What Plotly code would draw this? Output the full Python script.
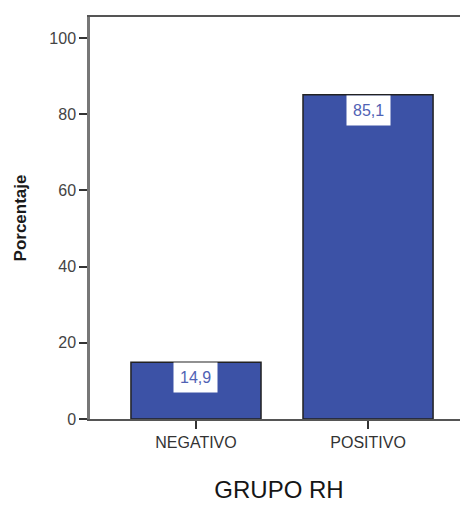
import plotly.graph_objects as go

categories = ["NEGATIVO", "POSITIVO"]
values = [14.9, 85.1]
value_labels = ["14,9", "85,1"]
y_ticks = [0, 20, 40, 60, 80, 100]

FONT = "Liberation Sans, Arial, sans-serif"

fig = go.Figure()
fig.add_trace(go.Bar(
    x=categories, y=values, width=0.756,
    marker=dict(color="#3c52a6", line=dict(color="#222222", width=1.5)),
    showlegend=False, hoverinfo="skip",
))

for c, v, t in zip(categories, values, value_labels):
    fig.add_annotation(
        x=c, y=v, text=t, showarrow=False, yanchor="top", yshift=0,
        bgcolor="white", font=dict(family=FONT, size=16, color="#5062b4"),
        borderpad=6,
    )

fig.update_layout(
    width=460, height=499,
    margin=dict(l=82, r=0, t=9, b=88),
    paper_bgcolor="white", plot_bgcolor="white",
    font=dict(family=FONT, color="#333333"),
    xaxis=dict(
        range=[-0.616, 1.581], showline=True, linecolor="#555555", linewidth=2, mirror=True,
        ticks="outside", ticklen=8, tickcolor="#333333", tickwidth=2,
        tickfont=dict(size=16, color="#333333"),
        title=dict(text="GRUPO RH", font=dict(size=24, color="#151515"), standoff=31),
    ),
    yaxis=dict(
        range=[0, 105.5], tickvals=y_ticks, showgrid=False, zeroline=False,
        showline=True, linecolor="#777777", linewidth=2.5, mirror=False,
        ticks="outside", ticklen=8, tickcolor="#333333", tickwidth=2,
        tickfont=dict(size=16, color="#444444"),
        title=dict(text="<b>Porcentaje</b>", font=dict(size=17, color="#1a1a1a"), standoff=19),
    ),
)

fig.write_html("out.html")
